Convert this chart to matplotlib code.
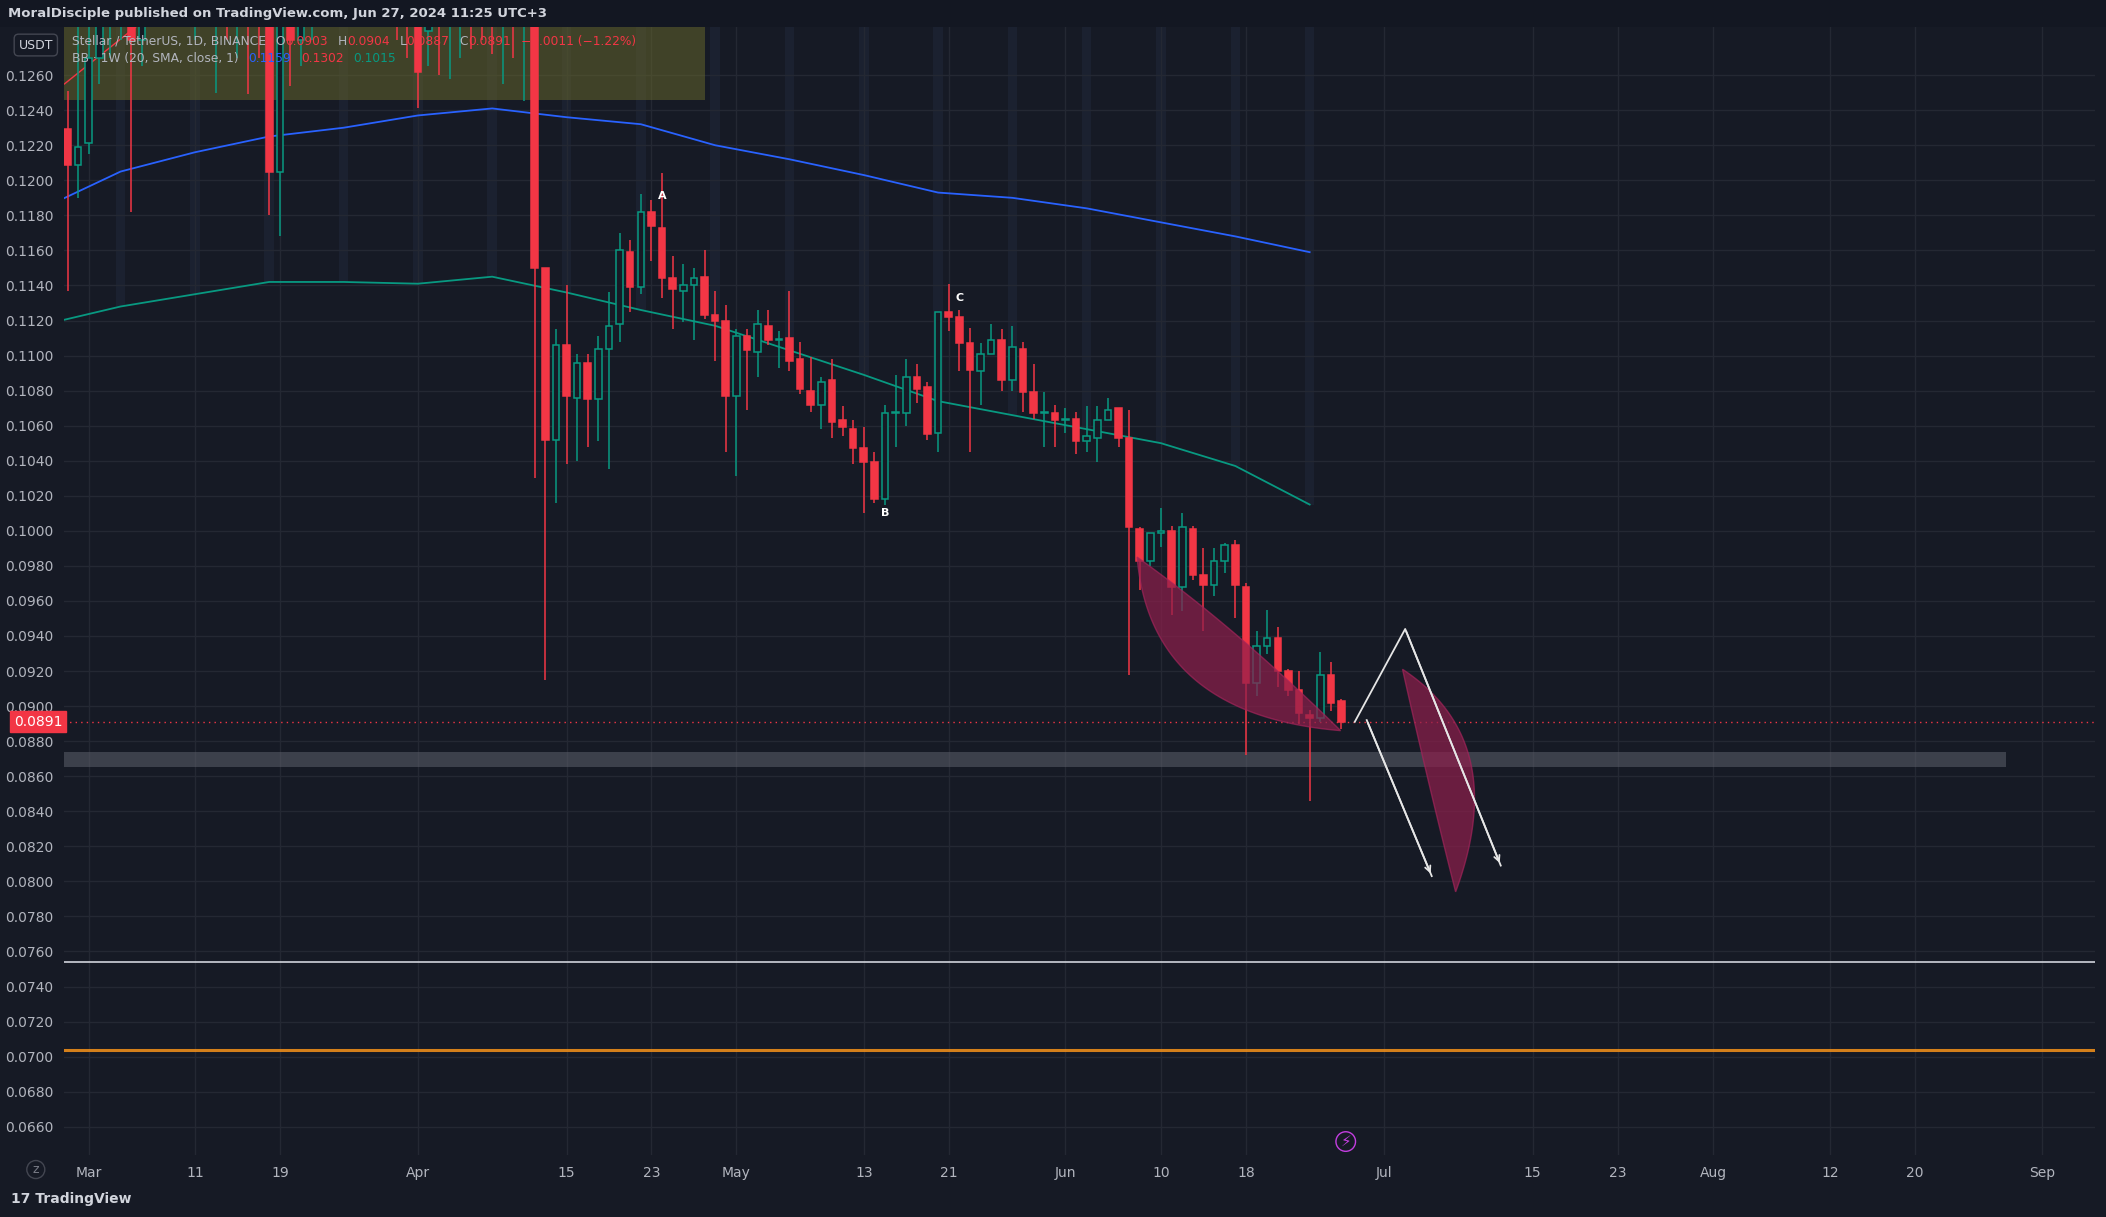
import numpy as np
import pandas as pd
import matplotlib
matplotlib.use("Agg")
import matplotlib.pyplot as plt
from matplotlib.patches import Polygon, FancyBboxPatch

# ---- data (XLM/USDT daily; values above ~0.129 are hidden/estimated) ----
start_date = "2024-02-28"
opens = [0.1229, 0.1209, 0.1221, 0.1270, 0.1290, 0.1300, 0.1350, 0.1280, 0.1320, 0.1340,
         0.1360, 0.1330, 0.1310, 0.1340, 0.1320, 0.1330, 0.1300, 0.1310, 0.1300, 0.1290,
         0.1205, 0.1290, 0.1280, 0.1300, 0.1310, 0.1320, 0.1330, 0.1320, 0.1340, 0.1330,
         0.1320, 0.1310, 0.1300, 0.1290, 0.1285, 0.1300, 0.1290, 0.1300, 0.1310, 0.1305,
         0.1300, 0.1295, 0.1300, 0.1290, 0.1300, 0.1150,
         0.1052, 0.1106, 0.1076, 0.1096, 0.1075, 0.1104, 0.1118, 0.1159, 0.1139, 0.1182,
         0.1173, 0.1144, 0.1137, 0.1140, 0.1145, 0.1123, 0.1120,
         0.1077, 0.1111, 0.1102, 0.1117, 0.1109, 0.1110, 0.1098, 0.1080, 0.1072, 0.1086,
         0.1063, 0.1058, 0.1047, 0.1039, 0.1018, 0.1067, 0.1067, 0.1088, 0.1082, 0.1056,
         0.1125, 0.1122, 0.1107, 0.1091, 0.1101, 0.1109, 0.1086, 0.1104, 0.1079, 0.1067,
         0.1067,
         0.1063, 0.1064, 0.1051, 0.1053, 0.1063, 0.1070, 0.1053, 0.1001, 0.0983, 0.0999,
         0.1000, 0.0968, 0.1001, 0.0975, 0.0969, 0.0983, 0.0992, 0.0968, 0.0913, 0.0934,
         0.0939, 0.0920, 0.0909, 0.0895, 0.0893, 0.0918, 0.0903]
highs = [0.1251, 0.1300, 0.1320, 0.1340, 0.1320, 0.1420, 0.1410, 0.1360, 0.1380, 0.1390,
         0.1400, 0.1370, 0.1360, 0.1370, 0.1350, 0.1350, 0.1330, 0.1340, 0.1330, 0.1320,
         0.1300, 0.1320, 0.1320, 0.1330, 0.1340, 0.1350, 0.1360, 0.1360, 0.1370, 0.1360,
         0.1340, 0.1330, 0.1320, 0.1310, 0.1320, 0.1320, 0.1320, 0.1330, 0.1330, 0.1330,
         0.1320, 0.1320, 0.1320, 0.1320, 0.1310, 0.1150,
         0.1115, 0.1140, 0.1101, 0.1101, 0.1111, 0.1136, 0.1170, 0.1166, 0.1192, 0.1189,
         0.1204, 0.1157, 0.1152, 0.1150, 0.1160, 0.1137, 0.1129,
         0.1115, 0.1115, 0.1126, 0.1126, 0.1114, 0.1137, 0.1108, 0.1099, 0.1088, 0.1098,
         0.1071, 0.1063, 0.1059, 0.1045, 0.1072, 0.1089, 0.1098, 0.1095, 0.1085, 0.1125,
         0.1141, 0.1126, 0.1116, 0.1107, 0.1118, 0.1115, 0.1117, 0.1108, 0.1095, 0.1079,
         0.1072,
         0.1070, 0.1068, 0.1071, 0.1071, 0.1076, 0.1070, 0.1069, 0.1002, 0.0999, 0.1013,
         0.1003, 0.1010, 0.1003, 0.0990, 0.0990, 0.0993, 0.0995, 0.0970, 0.0943, 0.0955,
         0.0945, 0.0921, 0.0920, 0.0898, 0.0931, 0.0925, 0.0904]
lows = [0.1137, 0.1190, 0.1215, 0.1255, 0.1270, 0.1280, 0.1182, 0.1265, 0.1300, 0.1310,
        0.1300, 0.1290, 0.1280, 0.1300, 0.1250, 0.1280, 0.1270, 0.1249, 0.1270, 0.1180,
        0.1168, 0.1254, 0.1265, 0.1280, 0.1290, 0.1300, 0.1300, 0.1300, 0.1310, 0.1300,
        0.1290, 0.1280, 0.1270, 0.1241, 0.1265, 0.1260, 0.1258, 0.1270, 0.1275, 0.1280,
        0.1272, 0.1255, 0.1270, 0.1245, 0.1030, 0.0915,
        0.1016, 0.1038, 0.1040, 0.1048, 0.1051, 0.1035, 0.1108, 0.1125, 0.1135, 0.1154,
        0.1133, 0.1115, 0.1119, 0.1109, 0.1121, 0.1097, 0.1045,
        0.1031, 0.1069, 0.1088, 0.1106, 0.1093, 0.1091, 0.1078, 0.1068, 0.1058, 0.1053,
        0.1054, 0.1038, 0.1010, 0.1016, 0.1015, 0.1048, 0.1060, 0.1073, 0.1052, 0.1045,
        0.1114, 0.1091, 0.1045, 0.1072, 0.1101, 0.1080, 0.1080, 0.1068, 0.1064, 0.1048,
        0.1048,
        0.1056, 0.1044, 0.1045, 0.1039, 0.1063, 0.1048, 0.0918, 0.0966, 0.0980, 0.0991,
        0.0952, 0.0954, 0.0972, 0.0943, 0.0963, 0.0976, 0.0950, 0.0872, 0.0906, 0.0930,
        0.0911, 0.0906, 0.0890, 0.0846, 0.0891, 0.0897, 0.0887]
closes = [0.1209, 0.1219, 0.1270, 0.1290, 0.1300, 0.1350, 0.1280, 0.1320, 0.1340, 0.1360,
          0.1330, 0.1310, 0.1340, 0.1320, 0.1330, 0.1300, 0.1310, 0.1300, 0.1290, 0.1205,
          0.1290, 0.1280, 0.1300, 0.1310, 0.1320, 0.1330, 0.1320, 0.1340, 0.1330, 0.1320,
          0.1310, 0.1300, 0.1290, 0.1262, 0.1300, 0.1290, 0.1300, 0.1310, 0.1305, 0.1300,
          0.1295, 0.1300, 0.1290, 0.1300, 0.1150, 0.1052,
          0.1106, 0.1077, 0.1096, 0.1075, 0.1104, 0.1117, 0.1160, 0.1139, 0.1182, 0.1174,
          0.1144, 0.1138, 0.1140, 0.1144, 0.1123, 0.1120, 0.1077,
          0.1111, 0.1103, 0.1118, 0.1109, 0.1109, 0.1097, 0.1081, 0.1072, 0.1085, 0.1062,
          0.1059, 0.1047, 0.1039, 0.1018, 0.1067, 0.1068, 0.1088, 0.1081, 0.1055, 0.1125,
          0.1122, 0.1107, 0.1092, 0.1101, 0.1109, 0.1086, 0.1105, 0.1079, 0.1067, 0.1067,
          0.1063,
          0.1064, 0.1051, 0.1054, 0.1063, 0.1069, 0.1053, 0.1002, 0.0983, 0.0999, 0.1000,
          0.0968, 0.1002, 0.0975, 0.0969, 0.0983, 0.0992, 0.0969, 0.0913, 0.0934, 0.0939,
          0.0920, 0.0909, 0.0896, 0.0893, 0.0918, 0.0902, 0.0891]

# weekly Bollinger Bands (1W, 20, SMA) at week starts
bb_weeks = ["2024-02-26", "2024-03-04", "2024-03-11", "2024-03-18", "2024-03-25", "2024-04-01",
            "2024-04-08", "2024-04-15", "2024-04-22", "2024-04-29", "2024-05-06", "2024-05-13",
            "2024-05-20", "2024-05-27", "2024-06-03", "2024-06-10", "2024-06-17", "2024-06-24"]
bb_upper = [0.1185, 0.1205, 0.1216, 0.1225, 0.1230, 0.1237, 0.1241, 0.1236, 0.1232, 0.1220,
            0.1212, 0.1203, 0.1193, 0.1190, 0.1184, 0.1176, 0.1168, 0.1159]
bb_lower = [0.1118, 0.1128, 0.1135, 0.1142, 0.1142, 0.1141, 0.1145, 0.1136, 0.1126, 0.1117,
            0.1103, 0.1089, 0.1074, 0.1066, 0.1058, 0.1050, 0.1037, 0.1015]

tick_dates = ["2024-03-01", "2024-03-11", "2024-03-19", "2024-04-01", "2024-04-15", "2024-04-23",
              "2024-05-01", "2024-05-13", "2024-05-21", "2024-06-01", "2024-06-10", "2024-06-18",
              "2024-07-01", "2024-07-15", "2024-07-23", "2024-08-01", "2024-08-12", "2024-08-20",
              "2024-09-01"]
tick_labels = ["Mar", "11", "19", "Apr", "15", "23", "May", "13", "21", "Jun", "10", "18",
               "Jul", "15", "23", "Aug", "12", "20", "Sep"]

last_price = 0.0891
level_white = 0.0754
level_orange = 0.0704
support_zone = (0.0865, 0.0874)
highlight_box = (0.1246, 0.1300)

# projected path drawing (date, price)
path_up = [("2024-06-28 06:00", 0.0891), ("2024-07-03", 0.0944), ("2024-07-12", 0.0809)]
path_down = [("2024-06-29 09:00", 0.0892), ("2024-07-05 12:00", 0.0803)]
labels_abc = [("A", "2024-04-24", 0.1188, "bottom"), ("B", "2024-05-15", 0.1013, "top"),
              ("C", "2024-05-22", 0.1130, "bottom")]

BG = "#161a25"
GRID = "#242833"
TXT = "#b2b5be"
UP = "#089981"
DN = "#f23645"

t0 = pd.Timestamp("2024-03-01")
def dx(d):
    return (pd.Timestamp(d) - t0) / pd.Timedelta(days=1)

days = pd.date_range(start_date, periods=len(opens), freq="D")
xs = np.array([dx(d) for d in days])
o, h, l, c = map(np.array, (opens, highs, lows, closes))

fig = plt.figure(figsize=(21.06, 12.17), dpi=100, facecolor=BG)
ax = fig.add_axes([0.0306, 0.051, 0.9643, 0.927])
ax.set_facecolor(BG)
xmin, xmax = dx("2024-02-27 17:00"), dx("2024-09-06")
ymin, ymax = 0.06439, 0.12876
ax.set_xlim(xmin, xmax)
ax.set_ylim(ymin, ymax)

# grid
yt = np.round(np.arange(0.066, 0.1261, 0.002), 4)
ax.set_yticks(yt)
ax.set_yticklabels([f"{v:.4f}" for v in yt])
ax.set_xticks([dx(d) for d in tick_dates])
ax.set_xticklabels(tick_labels)
ax.grid(True, color=GRID, lw=1)
ax.set_axisbelow(True)
ax.tick_params(colors=TXT, labelsize=10, length=0, pad=8)
for s in ax.spines.values():
    s.set_visible(False)

# weekly stripes
wx = np.array([dx(d) for d in bb_weeks])
for x0, lo in zip(wx, bb_lower):
    ax.axvspan(x0 - 0.45, x0 + 0.45, ymin=(lo - ymin) / (ymax - ymin), ymax=1,
               color="#1b2130", lw=0, zorder=0.5)

# highlight box and zones
ax.fill_between([xmin, dx("2024-04-28")], *highlight_box, color="#6b6a2c", alpha=0.5, lw=0, zorder=1)
ax.fill_between([xmin, dx("2024-08-28 15:00")], *support_zone, color="#5d606b", alpha=0.55, lw=0, zorder=1)
ax.axhline(level_white, color="#d1d4dc", lw=1.2, zorder=2)
ax.axhline(level_orange, color="#f7931a", lw=2.2, zorder=2, alpha=0.85)
ax.axhline(last_price, color=DN, lw=1, ls=(0, (1, 3)), zorder=2)

# BB lines
ax.plot(wx, bb_upper, color="#2962ff", lw=1.3, zorder=2)
ax.plot(wx, bb_lower, color="#089981", lw=1.3, zorder=2)
ax.plot([xmin, dx("2024-03-08")], [0.1255, 0.1300], color=DN, lw=1, zorder=2)

# candles
w = 0.62
for xi, oi, hi, li, ci in zip(xs, o, h, l, c):
    up = ci >= oi
    col = UP if up else DN
    lo_b, hi_b = min(oi, ci), max(oi, ci)
    ax.vlines(xi, li, lo_b, color=col, lw=1.1, zorder=3)
    ax.vlines(xi, hi_b, hi, color=col, lw=1.1, zorder=3)
    hgt = max(hi_b - lo_b, 0.00006)
    ax.bar(xi, hgt, w, bottom=lo_b, color=BG if up else col, edgecolor=col, lw=1.1, zorder=4)

# crescent drawings
def crescent(p0, p1, c_out, c_in, n=60):
    t = np.linspace(0, 1, n)[:, None]
    a, b = np.array(p0), np.array(p1)
    co, ci_ = np.array(c_out), np.array(c_in)
    outer = (1 - t) ** 2 * a + 2 * (1 - t) * t * co + t ** 2 * b
    inner = (1 - t) ** 2 * a + 2 * (1 - t) * t * ci_ + t ** 2 * b
    return np.vstack([outer, inner[::-1]])

cr1 = crescent((dx("2024-06-07 18:00"), 0.0985), (dx("2024-06-26 22:00"), 0.0886),
               (dx("2024-06-09"), 0.0895), (dx("2024-06-17"), 0.0945))
cr2 = crescent((dx("2024-07-02 18:00"), 0.0921), (dx("2024-07-07 18:00"), 0.0794),
               (dx("2024-07-13"), 0.0880), (dx("2024-07-05"), 0.0860))
for pts in (cr1, cr2):
    ax.add_patch(Polygon(pts, closed=True, facecolor="#8e1f4c", edgecolor="#a3245a",
                         alpha=0.7, lw=1, zorder=5))

# projected path arrows
for path in (path_up, path_down):
    px = [dx(d) for d, _ in path]
    py = [v for _, v in path]
    ax.plot(px, py, color="#e6e6e6", lw=1.3, zorder=6)
    ax.annotate("", xy=(px[-1], py[-1]), xytext=(px[-2], py[-2]),
                arrowprops=dict(arrowstyle="->", color="#e6e6e6", lw=1.3), zorder=6)

for txt, d, v, va in labels_abc:
    ax.text(dx(d), v, txt, color="white", fontsize=8, fontweight="bold", ha="center", va=va, zorder=7)

# last price tag
ax.text(-0.001, last_price, f"{last_price:.4f}", transform=ax.get_yaxis_transform(), ha="right",
        va="center", fontsize=10, color="white", zorder=8,
        bbox=dict(boxstyle="square,pad=0.25", fc=DN, ec=DN))

# legend texts
fs = 8.8
def row(y, parts, x=0.034):
    r = fig.canvas.get_renderer()
    for s, col, gap in parts:
        t = fig.text(x, y, s, color=col, fontsize=fs, va="center", zorder=9)
        bb = t.get_window_extent(renderer=r)
        x += (bb.width + gap) / fig.bbox.width
row(0.966, [("Stellar / TetherUS, 1D, BINANCE", TXT, 10), ("O", TXT, 0), ("0.0903", DN, 10),
            ("H", TXT, 0), ("0.0904", DN, 10), ("L", TXT, 0), ("0.0887", DN, 10), ("C", TXT, 0),
            ("0.0891", DN, 10), ("−0.0011 (−1.22%)", DN, 0)])
row(0.952, [("BB · 1W (20, SMA, close, 1)", TXT, 10), ("0.1159", "#2962ff", 10), ("0.1302", DN, 10),
            ("0.1015", UP, 0)])

# header / footer
fig.patches.append(FancyBboxPatch((0, 0.978), 1, 0.022, boxstyle="square,pad=0", transform=fig.transFigure,
                                  fc="#131722", ec="none", zorder=-1))
fig.text(0.004, 0.989, "MoralDisciple published on TradingView.com, Jun 27, 2024 11:25 UTC+3",
         color="#d1d4dc", fontsize=9.5, va="center", fontweight="bold")
fig.text(0.017, 0.963, "USDT", color="#d1d4dc", fontsize=9, ha="center", va="center",
         bbox=dict(boxstyle="round,pad=0.35", fc=BG, ec="#434651"))
fig.text(0.017, 0.039, "z", color="#787b86", fontsize=9, ha="center", va="center",
         bbox=dict(boxstyle="circle,pad=0.2", fc=BG, ec="#434651"))
fig.text(0.639, 0.062, "⚡", color="#c33ee0", fontsize=11, ha="center", va="center",
         bbox=dict(boxstyle="circle,pad=0.15", fc=BG, ec="#c33ee0"))
fig.text(0.005, 0.015, "17 TradingView", color="#d1d4dc", fontsize=10, va="center", fontweight="bold")

fig.savefig("out.png", dpi=100, facecolor=BG)
